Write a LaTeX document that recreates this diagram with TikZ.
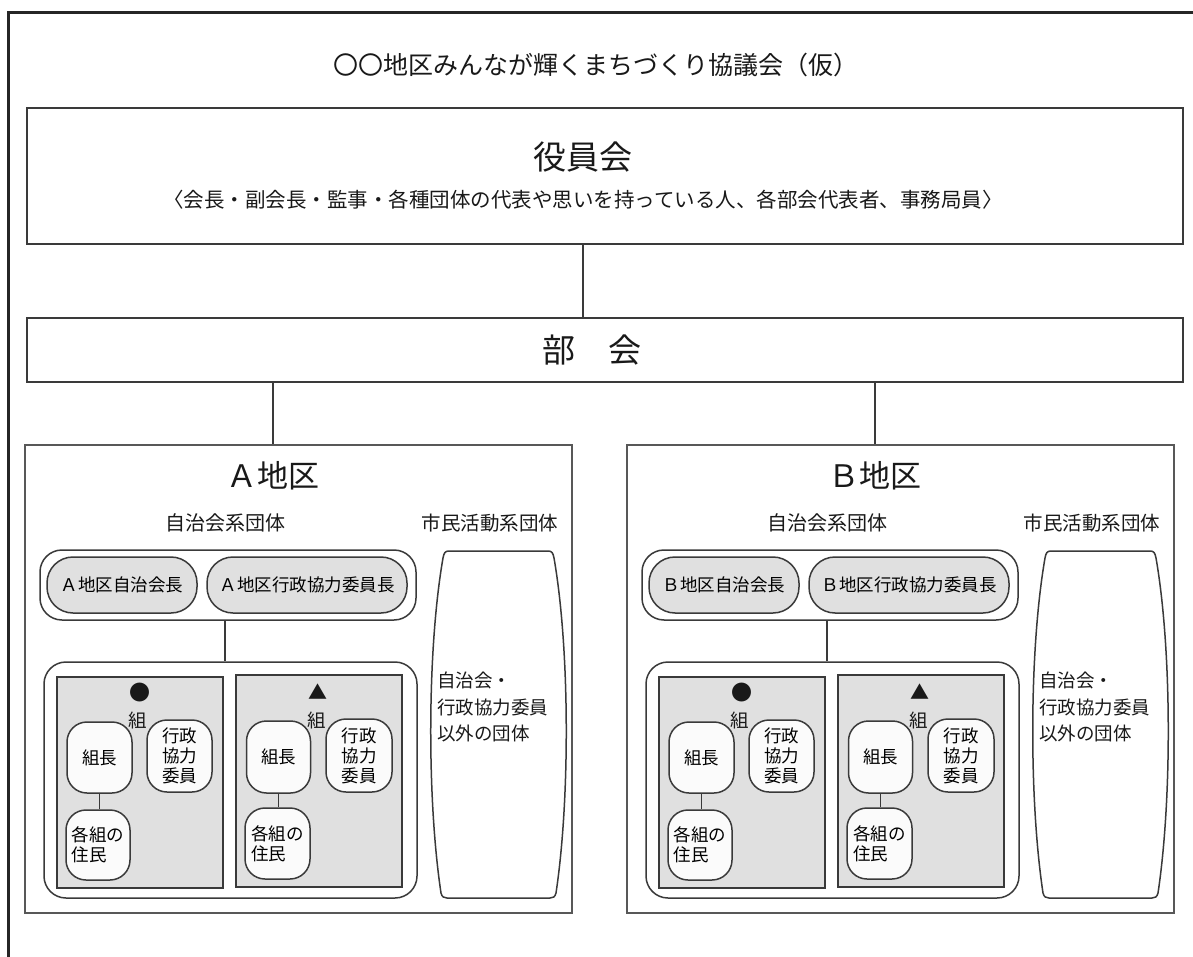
\documentclass[tikz,border=0pt]{standalone}
\usepackage{fontspec}
\setmainfont{Noto Sans CJK JP}
\definecolor{ln}{HTML}{3A3A3A}
\definecolor{gr}{HTML}{E0E0E0}
\definecolor{wh}{HTML}{FBFBFB}
\newcommand\myfs[2]{\fontsize{#1}{#2}\selectfont}
\tikzset{
  box/.style={draw=ln, line width=1.5pt, inner sep=0pt},
  pillg/.style={box, fill=gr, rounded corners=26pt},
  pillw/.style={box, fill=wh, rounded corners=20pt},
  grp/.style={box, rounded corners=22pt},
  kumi/.style={box, fill=gr},
  lbl/.style={inner sep=0pt, text=black!90},
  conn/.style={draw=ln, line width=1.5pt},
}
\newcommand\district[3]{%
\begin{scope}[xshift=#3]
  \node[box, line width=1.8pt, draw=ln!85, minimum width=547pt, minimum height=468pt] (#1box) at (298.5,679) {};
  \node[lbl, font=\myfs{31}{31}] (#1title) at (273,476) {#2地区};
  \node[lbl, font=\myfs{20}{20}] (#1jichi) at (225,523) {自治会系団体};
  \node[lbl, font=\myfs{19.5}{20}] (#1shimin) at (490,523) {市民活動系団体};
  \node[grp, minimum width=376pt, minimum height=70pt] (#1grp) at (228,585) {};
  \node[pillg, minimum width=150pt, minimum height=56pt, font=\myfs{17.5}{18}] (#1p1) at (122,585) {#2地区自治会長};
  \node[pillg, minimum width=200pt, minimum height=56pt, font=\myfs{17.5}{18}] (#1p2) at (307,585) {#2地区行政協力委員長};
  \node[grp, minimum width=373pt, minimum height=236pt] (#1low) at (230.5,780) {};
  \node[kumi, minimum width=166pt, minimum height=211pt] (#1k1) at (140,782.5) {};
  \node[kumi, minimum width=166pt, minimum height=212pt] (#1k2) at (319,781) {};
  \node[lbl, font=\myfs{21}{21}] (#1m1) at (140,693) {●};
  \node[lbl, font=\myfs{19}{19}] (#1m2) at (318,692) {▲};
  \node[lbl, font=\myfs{18.5}{18.5}] (#1kl1) at (138,720) {組};
  \node[lbl, font=\myfs{18.5}{18.5}] (#1kl2) at (317,720) {組};
  \node[pillw, minimum width=65pt, minimum height=71pt, font=\myfs{17.5}{20}] (#1kc1) at (99.5,757.5) {組長};
  \node[pillw, minimum width=65pt, minimum height=72pt, font=\myfs{17.5}{20}, align=center] (#1gy1) at (179.5,756) {行政\\協力\\委員};
  \node[pillw, minimum width=64pt, minimum height=70pt, font=\myfs{17.5}{20}, align=left] (#1ju1) at (98,845) {各組の\\住民};
  \node[pillw, minimum width=64pt, minimum height=72pt, font=\myfs{17.5}{20}] (#1kc2) at (278.5,757) {組長};
  \node[pillw, minimum width=66pt, minimum height=73pt, font=\myfs{17.5}{20}, align=center] (#1gy2) at (359,755.5) {行政\\協力\\委員};
  \node[pillw, minimum width=65pt, minimum height=71pt, font=\myfs{17.5}{20}, align=left] (#1ju2) at (277.5,843.5) {各組の\\住民};
  \draw[conn] (#1kc1.south) -- (#1ju1.north -| #1kc1.south);
  \draw[conn] (#1kc2.south) -- (#1ju2.north -| #1kc2.south);
  \coordinate (#1gc) at (225,0);
  \draw[conn] (#1grp.south -| #1gc) -- (#1low.north -| #1gc);
  \draw[box] (449,551) -- (548,551) .. controls (552,551) and (553,553) .. (554,558)
     .. controls (570,650) and (570,800) .. (556,893)
     .. controls (555,897) and (553,898) .. (550,898) -- (447,898)
     .. controls (444,898) and (442,897) .. (441,893)
     .. controls (427,800) and (427,650) .. (443,558)
     .. controls (444,553) and (445,551) .. (449,551) -- cycle;
  \node[lbl, anchor=west, align=left, font=\myfs{18.5}{26.5}] (#1civ) at (437,707) {自治会・\\行政協力委員\\以外の団体};
  \coordinate (#1bc) at (273,0);
  \draw[conn] (bukai.south -| #1bc) -- (#1box.north -| #1bc);
\end{scope}}
\begin{document}
\begin{tikzpicture}[x=1pt, y=-1pt]
  \useasboundingbox (0,0) rectangle (1193,957);
  \fill[white] (0,0) rectangle (1193,957);
  \draw[line width=3pt, draw=black!85] (8.5,957) -- (8.5,12.5) -- (1193,12.5);
  \node[lbl, font=\myfs{25}{25}] (title) at (596,65) {〇〇地区みんなが輝くまちづくり協議会（仮）};
  \node[box, line width=1.8pt, minimum width=1156pt, minimum height=136pt] (yakuin) at (605,176) {};
  \node[lbl, font=\myfs{33}{33}] (yakuinT) at (583,157) {役員会};
  \node[lbl, font=\myfs{20.5}{21}] (yakuinS) at (583,200) {〈会長・副会長・監事・各種団体の代表や思いを持っている人、各部会代表者、事務局員〉};
  \node[box, line width=1.8pt, minimum width=1156pt, minimum height=64pt] (bukai) at (605,350) {};
  \node[lbl, font=\myfs{33}{33}] (bukaiT) at (592,350) {部　会};
  \coordinate (yc) at (583,0);
  \draw[conn] (yakuin.south -| yc) -- (bukai.north -| yc);
  \district{A}{Ａ}{0pt}
  \district{B}{Ｂ}{602pt}
\end{tikzpicture}
\end{document}
